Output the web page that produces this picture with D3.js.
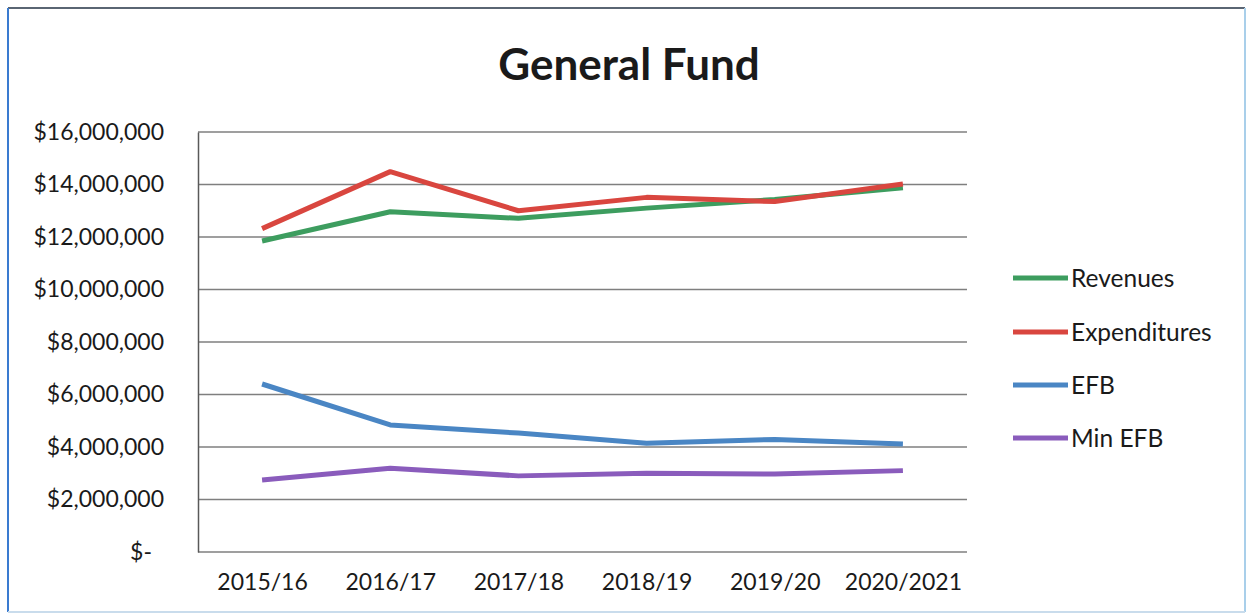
<!DOCTYPE html>
<html>
<head>
<meta charset="utf-8">
<script src="https://cdn.jsdelivr.net/npm/d3@7"></script>
<style>
  html, body { margin: 0; padding: 0; background: #ffffff; }
  svg { display: block; }
  text { font-family: Lato, "Open Sans", sans-serif; fill: #1a1a1a; }
</style>
</head>
<body>
<svg id="chart" width="1248" height="616"></svg>
<script>
// Fiscal years and General Fund totals (dollars)
const years = ["2015/16", "2016/17", "2017/18", "2018/19", "2019/20", "2020/2021"];
const revenues = [11850000, 12960000, 12710000, 13100000, 13430000, 13880000];
const expenditures = [12320000, 14490000, 13000000, 13510000, 13350000, 14020000];
const efb = [6400000, 4840000, 4530000, 4140000, 4290000, 4110000];
const minEfb = [2740000, 3190000, 2900000, 3000000, 2970000, 3100000];
const yTicks = [0, 2000000, 4000000, 6000000, 8000000, 10000000, 12000000, 14000000, 16000000];

const series = [
  { name: "Revenues", values: revenues, color: "#3d9d5f" },
  { name: "Expenditures", values: expenditures, color: "#d9463f" },
  { name: "EFB", values: efb, color: "#4a86c4" },
  { name: "Min EFB", values: minEfb, color: "#8a5cbc" }
];

const svg = d3.select("#chart");
const W = 1248, H = 616;

// chart frame
svg.append("rect").attr("x", 0).attr("y", 0).attr("width", W).attr("height", H).attr("fill", "#fff");
svg.append("line").attr("x1", 8).attr("x2", 1245).attr("y1", 8).attr("y2", 8)
  .attr("stroke", "#5a6573").attr("stroke-width", 2);
svg.append("line").attr("x1", 8).attr("x2", 8).attr("y1", 8).attr("y2", 612)
  .attr("stroke", "#3a7bd0").attr("stroke-width", 2);
svg.append("line").attr("x1", 1245).attr("x2", 1245).attr("y1", 8).attr("y2", 612)
  .attr("stroke", "#a9cfea").attr("stroke-width", 2);
svg.append("line").attr("x1", 8).attr("x2", 1245).attr("y1", 612).attr("y2", 612)
  .attr("stroke", "#c9dcec").attr("stroke-width", 2);

// plot area
const plot = { left: 198, right: 967, top: 132, bottom: 552 };

const x = d3.scalePoint().domain(years).range([plot.left, plot.right]).padding(0.5);
const y = d3.scaleLinear().domain([0, 16000000]).range([plot.bottom, plot.top]);

// title
svg.append("text")
  .attr("x", 629).attr("y", 80)
  .attr("text-anchor", "middle")
  .attr("font-size", 44).attr("font-weight", 700)
  .text("General Fund");

// horizontal gridlines
svg.append("g")
  .selectAll("line")
  .data(yTicks)
  .join("line")
  .attr("x1", plot.left).attr("x2", plot.right)
  .attr("y1", d => y(d)).attr("y2", d => y(d))
  .attr("stroke", "#7f7f7f").attr("stroke-width", 1.3);

// y axis
const fmt = d => d === 0 ? "$-" : "$" + d3.format(",")(d);
const yAxis = d3.axisLeft(y).tickValues(yTicks).tickFormat(fmt).tickSize(0).tickPadding(34);
const gy = svg.append("g").attr("transform", `translate(${plot.left},0)`).call(yAxis);
gy.select(".domain").attr("stroke", "#595959").attr("stroke-width", 1.5);
gy.selectAll("text")
  .attr("font-size", 23)
  .attr("font-family", "Lato, sans-serif")
  .attr("fill", "#1a1a1a")
  .attr("dx", d => d === 0 ? -12 : 0);

// x axis labels
const xAxis = d3.axisBottom(x).tickSize(0).tickPadding(22);
const gx = svg.append("g").attr("transform", `translate(0,${plot.bottom})`).call(xAxis);
gx.select(".domain").remove();
gx.selectAll("text")
  .attr("font-size", 23)
  .attr("font-family", "Lato, sans-serif")
  .attr("fill", "#1a1a1a");

// series lines
const line = d3.line().x((d, i) => x(years[i])).y(d => y(d));
svg.append("g")
  .selectAll("path")
  .data(series)
  .join("path")
  .attr("d", s => line(s.values))
  .attr("fill", "none")
  .attr("stroke", s => s.color)
  .attr("stroke-width", 5)
  .attr("stroke-linejoin", "round")
  .attr("stroke-linecap", "butt");

// legend
const legend = svg.append("g");
const rowY = [278, 332, 385, 438];
series.forEach((s, i) => {
  legend.append("line")
    .attr("x1", 1013).attr("x2", 1068)
    .attr("y1", rowY[i]).attr("y2", rowY[i])
    .attr("stroke", s.color).attr("stroke-width", 5);
  legend.append("text")
    .attr("x", 1071).attr("y", rowY[i])
    .attr("dy", "0.35em")
    .attr("font-size", 24.5)
    .text(s.name);
});
</script>
</body>
</html>
